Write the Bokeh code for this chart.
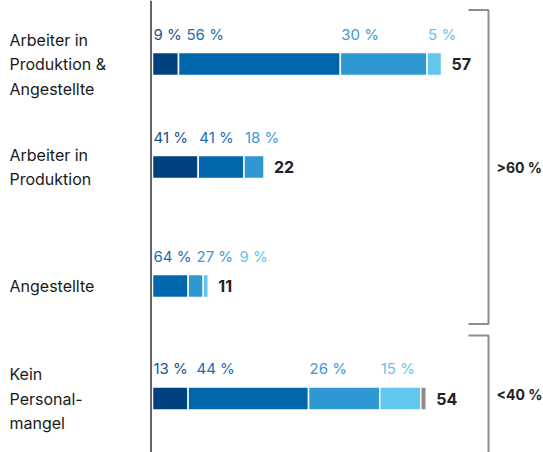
from bokeh.plotting import figure
from bokeh.models import Range1d, Span
from bokeh.core.properties import value
from bokeh.embed import file_html
from bokeh.resources import INLINE

# ---------------- data ----------------
categories = ["Arbeiter in\nProduktion &\nAngestellte",
              "Arbeiter in\nProduktion",
              "Angestellte",
              "Kein\nPersonal-\nmangel"]
totals = [57, 22, 11, 54]
share_s1 = [9, 41, 0, 13]
share_s2 = [56, 41, 64, 44]
share_s3 = [30, 18, 27, 26]
share_s4 = [5, 0, 9, 15]
share_rest = [0, 0, 0, 2]
group_labels = [">60 %", "<40 %"]
group_rows = [[0, 1, 2], [3]]

# ---------------- style / layout ----------------
W, H = 543, 452
X0 = 152.0          # pixel where value 0 sits
S = 5.07            # pixels per unit
row_center = [63.5, 166.5, 285.5, 398.0]
bar_h = 23
seg_colors = ["#00427f", "#0067ad", "#2f97d1", "#62c6ef", "#8c8c8c"]
lab_colors = ["#1d4f8e", "#1c6bb4", "#3c9ad5", "#63c4ee"]
FONT = "Inter"

def px2x(px):
    return (px - X0) / S

p = figure(width=W, height=H, output_backend="svg", toolbar_location=None,
           x_range=Range1d(px2x(0), px2x(W)), y_range=Range1d(H, 0),
           min_border=0, outline_line_color=None)
p.axis.visible = False
p.grid.visible = False
p.background_fill_color = "white"
p.border_fill_color = "white"

series = [share_s1, share_s2, share_s3, share_s4, share_rest]

for i, tot in enumerate(totals):
    yc = row_center[i]
    left = 0.0
    lefts, rights, cols = [], [], []
    label_prev_end = None
    for k, sh in enumerate(series):
        v = sh[i]
        if v <= 0:
            continue
        w = tot * v / 100.0
        lefts.append(left); rights.append(left + w); cols.append(seg_colors[k])
        if k < 4:
            seg_px = X0 + left * S + 1
            if label_prev_end is not None:
                seg_px = max(seg_px, label_prev_end + 7)
            txt = f"{v} %"
            p.text(x=[px2x(seg_px)], y=[yc - 30], text=[txt],
                   text_font=value(FONT), text_font_size="15px",
                   text_color=lab_colors[k], text_baseline="middle", text_align="left")
            label_prev_end = seg_px + 10 * len(str(v)) + 16
        left += w
    p.quad(left=lefts, right=rights, top=[yc - bar_h / 2] * len(lefts),
           bottom=[yc + bar_h / 2] * len(lefts), fill_color=cols,
           line_color="white", line_width=1.5)
    p.text(x=[tot + px2x(X0 + 10)], y=[yc], text=[str(tot)],
           text_font=value(FONT), text_font_size="16px", text_font_style="bold",
           text_color="#222222", text_baseline="middle", text_align="left")
    lines = categories[i].split("\n")
    n = len(lines)
    for j, ln in enumerate(lines):
        p.text(x=[px2x(9)], y=[yc + (j - (n - 1) / 2) * 24.5], text=[ln],
               text_font=value(FONT), text_font_size="16px",
               text_color="#1a1a1a", text_baseline="middle", text_align="left")

# vertical axis line
p.add_layout(Span(location=px2x(X0 - 1.5), dimension="height",
                  line_color="#333333", line_width=1.5))

# brackets
bx_arm, bx_line = px2x(468), px2x(488)
bounds = [(row_center[0] - 54, row_center[2] + 38), (row_center[3] - 63, H + 10)]
for g, (top, bot) in enumerate(bounds):
    xs = [bx_arm, bx_line, bx_line, bx_arm]
    ys = [top, top, bot, bot]
    p.line(x=xs, y=ys, line_color="#8c8c8c", line_width=2)
    mid = (top + min(bot, H)) / 2
    p.text(x=[px2x(496)], y=[mid], text=[group_labels[g]],
           text_font=value(FONT), text_font_size="14px", text_font_style="bold",
           text_color="#222222", text_baseline="middle", text_align="left")

open("out.html", "w").write(file_html(p, INLINE))
